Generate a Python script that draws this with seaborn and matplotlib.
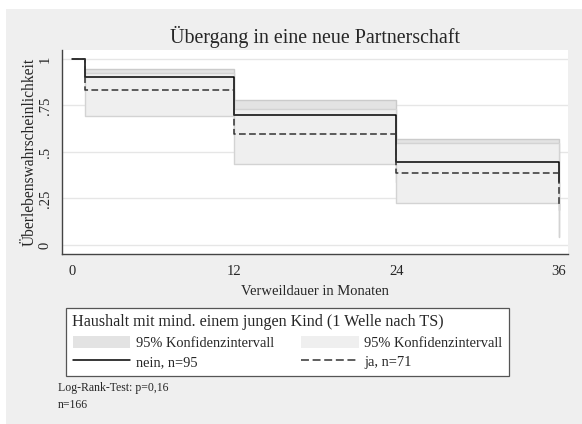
import numpy as np
import pandas as pd
import matplotlib.pyplot as plt
import seaborn as sns
from matplotlib.patches import Patch, Rectangle
from matplotlib.lines import Line2D

# step times (months) and Kaplan-Meier estimates
time = [0, 1, 12, 24, 36]
surv_nein = [1.0, 0.905, 0.697, 0.448, 0.34]
surv_ja = [1.0, 0.833, 0.598, 0.389, 0.203]

# 95% confidence bands (from month 1 on)
ci_time = [1, 12, 24, 36]
ci_nein_lo = [0.83, 0.59, 0.34, 0.19]
ci_nein_hi = [0.945, 0.778, 0.571, 0.49]
ci_ja_lo = [0.694, 0.434, 0.224, 0.042]
ci_ja_hi = [0.923, 0.73, 0.547, 0.40]

xticks = [0, 12, 24, 36]
yticks = [0, 0.25, 0.5, 0.75, 1]
yticklabels = ["0", ".25", ".5", ".75", "1"]

df = pd.DataFrame({
    "Monat": time * 2,
    "S": surv_nein + surv_ja,
    "Gruppe": ["nein, n=95"] * len(time) + ["ja, n=71"] * len(time),
})

sns.set_style("white")
plt.rcParams["font.family"] = ["Liberation Serif", "DejaVu Serif"]

bg = "#efefef"
fig = plt.figure(figsize=(5.82, 4.24), dpi=100)
fig.patch.set_facecolor("white")
fig.patches.append(Rectangle((6 / 582, 0), 1, 1 - 9 / 424, transform=fig.transFigure,
                             facecolor=bg, edgecolor="none", zorder=-10))
ax = fig.add_axes([61.7 / 582, 1 - 254.3 / 424, (568 - 61.7) / 582, (254.3 - 50) / 424])
ax.set_facecolor("white")

# confidence bands, ja drawn over nein
ax.fill_between(ci_time, ci_nein_lo, ci_nein_hi, step="post", facecolor="#e3e3e3",
                edgecolor="#cbcbcb", linewidth=1, zorder=1)
ax.fill_between(ci_time, ci_ja_lo, ci_ja_hi, step="post", facecolor="#efefef",
                edgecolor="#d3d3d3", linewidth=1, zorder=2)

sns.lineplot(data=df, x="Monat", y="S", hue="Gruppe", style="Gruppe",
             palette={"nein, n=95": "black", "ja, n=71": "#333333"},
             dashes={"nein, n=95": "", "ja, n=71": (4.4, 2.2)},
             drawstyle="steps-post", linewidth=1.1, legend=False, ax=ax, zorder=3)

ax.set_xlim(-0.74, 36.69)
ax.set_ylim(-0.05, 1.048)
ax.set_xticks(xticks)
ax.set_yticks(yticks)
ax.set_yticklabels(yticklabels, rotation=90, va="center")
ax.grid(axis="y", color="#e6e6e6", linewidth=1)
ax.set_axisbelow(True)
for s in ["top", "right"]:
    ax.spines[s].set_visible(False)
for s in ["left", "bottom"]:
    ax.spines[s].set_color("#444444")
    ax.spines[s].set_linewidth(1)
ax.tick_params(direction="out", length=5, width=0.8, color="#444444", labelsize=10.5, pad=3)
ax.tick_params(axis="y", pad=2)

ax.set_title("Übergang in eine neue Partnerschaft", fontsize=14.4, pad=5)
ax.set_xlabel("Verweildauer in Monaten", fontsize=10.5, labelpad=5)
ax.set_ylabel("Überlebenswahrscheinlichkeit", fontsize=11.2, labelpad=1)

handles = [
    Patch(facecolor="#e3e3e3", edgecolor="none", label="95% Konfidenzintervall"),
    Line2D([], [], color="black", linewidth=1.1, label="nein, n=95"),
    Patch(facecolor="#efefef", edgecolor="none", label="95% Konfidenzintervall"),
    Line2D([], [], color="#333333", linewidth=1.1, dashes=(5.2, 2.4), label="ja, n=71"),
]
leg = fig.legend(handles=handles, ncol=2, loc="upper left",
                 bbox_to_anchor=(66 / 582, 1 - 377 / 424, (509 - 66) / 582, (377 - 308) / 424),
                 mode="expand", title="Haushalt mit mind. einem jungen Kind (1 Welle nach TS)",
                 alignment="left", fontsize=10.4, title_fontsize=11.6,
                 frameon=True, fancybox=False, edgecolor="#555555", framealpha=1,
                 handlelength=4, handleheight=0.95, handletextpad=0.4,
                 borderpad=0.45, labelspacing=0.35, borderaxespad=0)
leg.get_frame().set_linewidth(0.9)

fig.text(58 / 582, 1 - 388 / 424, "Log-Rank-Test: p=0,16", fontsize=8.5, va="center")
fig.text(58 / 582, 1 - 405 / 424, "n=166", fontsize=8.5, va="center")

fig.savefig("out.png", dpi=100)
